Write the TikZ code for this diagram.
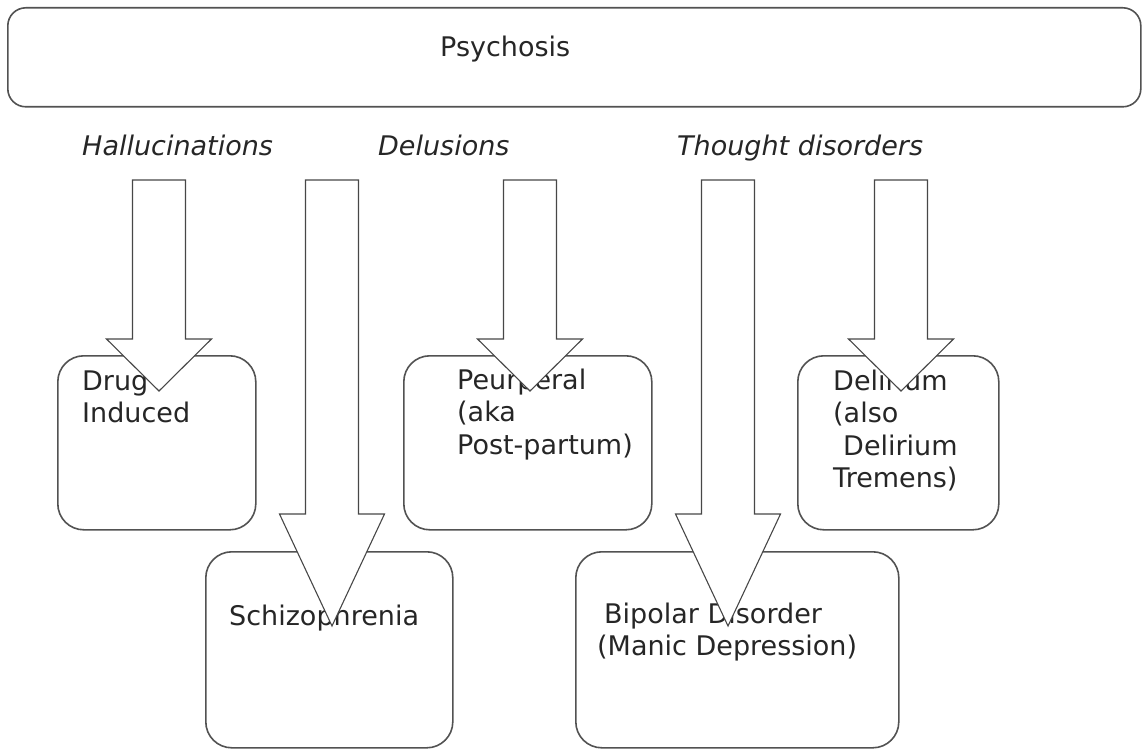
\documentclass[tikz,border=0pt]{standalone}
\usepackage{fontspec}
\setmainfont{DejaVu Sans}

% downward block arrow: #1 centre x, #2 top y, #3 y where the head starts, #4 tip y
\newcommand{\blockdown}[4]{%
  \draw[blockarrow] ({#1-26.5},#2) -- ({#1+26.5},#2) -- ({#1+26.5},#3)
    -- ({#1+52.5},#3) -- (#1,#4) -- ({#1-52.5},#3) -- ({#1-26.5},#3) -- cycle;}

\begin{document}
\begin{tikzpicture}[x=1pt,y=-1pt,
  box/.style={draw=black!68, line width=1.6pt, rounded corners=26pt,
              anchor=north west, inner sep=0pt},
  blockarrow/.style={draw=black!72, line width=1.1pt, fill=white, line join=miter},
  txt/.style={anchor=base west, inner sep=0pt, text=black!85,
              font=\fontsize{27}{32.5}\selectfont},
  cue/.style={txt, font=\fontsize{27}{32.5}\selectfont\itshape}]
\useasboundingbox (0,0) rectangle (1142,749);

% title bar
\node[box, rounded corners=18pt, minimum width=1133pt, minimum height=99pt] (top) at (7,7) {};
\node[txt] (title) at (440,57) {Psychosis};

% symptom headings
\node[cue] (hall) at (82,155) {Hallucinations};
\node[cue] (delu) at (378,155) {Delusions};
\node[cue] (thou) at (677,155) {Thought disorders};

% disorder boxes
\node[box, minimum width=198pt, minimum height=174pt] (drug) at (57,355) {};
\node[box, minimum width=248pt, minimum height=174pt] (peur) at (403,355) {};
\node[box, minimum width=201pt, minimum height=174pt] (deli) at (797,355) {};
\node[box, minimum width=247pt, minimum height=196pt] (schi) at (205,551) {};
\node[box, minimum width=323pt, minimum height=196pt] (bipo) at (575,551) {};

% box texts
\node[txt] (drugtxt) at (82,390) {\vtop{\hbox{Drug}\hbox{Induced}}};
\node[txt] (peurtxt) at (457,389) {\vtop{\hbox{Peurperal}\hbox{(aka}\hbox{Post-partum)}}};
\node[txt] (delitxt) at (833,390) {\vtop{\hbox{Delirium}\hbox{(also}\hbox{\hspace{10pt}Delirium}\hbox{Tremens)}}};
\node[txt] (schitxt) at (229,625) {Schizophrenia};
\node[txt] (bipotxt) at (597,623) {\vtop{\hbox{\hspace{7pt}Bipolar Disorder}\hbox{(Manic Depression)}}};

% block arrows, drawn over the boxes
\blockdown{159}{180}{339}{391}
\blockdown{332}{180}{514}{626}
\blockdown{530}{180}{339}{391}
\blockdown{728}{180}{514}{626}
\blockdown{901}{180}{339}{391}
\end{tikzpicture}
\end{document}
